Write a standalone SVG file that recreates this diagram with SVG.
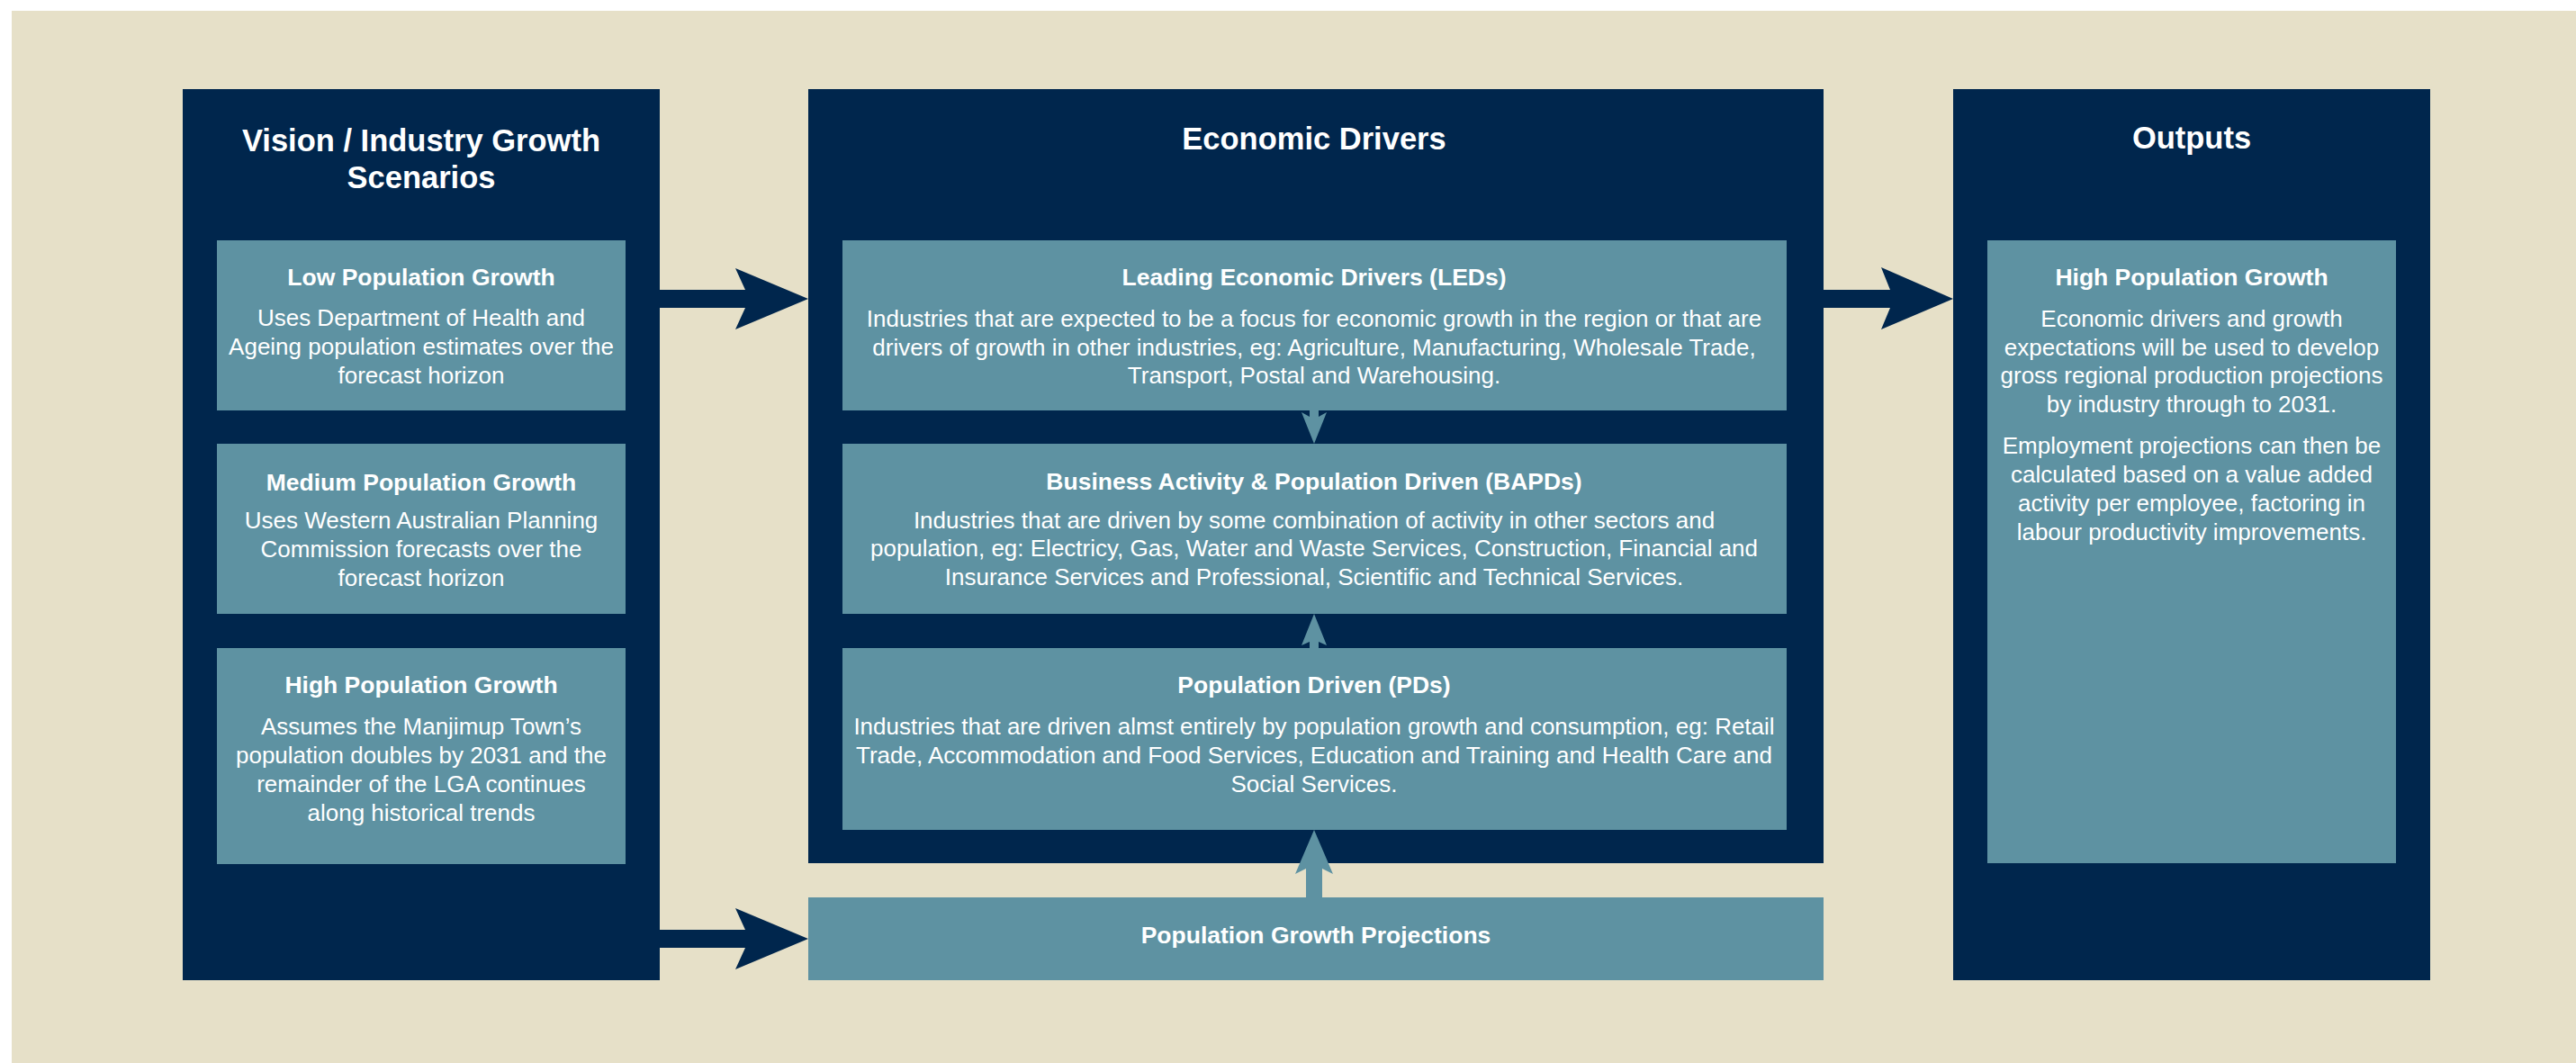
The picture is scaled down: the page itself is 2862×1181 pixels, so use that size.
<svg xmlns="http://www.w3.org/2000/svg" width="2862" height="1181" viewBox="0 0 2862 1181">
  <style>
    .panel { fill: #00264D; }
    .card { fill: #5E92A2; }
    .title { font-family: "Liberation Sans", Arial, sans-serif; font-weight: bold; font-size: 34.5px; fill: #FFFFFF; text-anchor: middle; }
    .head { font-family: "Liberation Sans", Arial, sans-serif; font-weight: bold; font-size: 26.5px; fill: #FFFFFF; text-anchor: middle; }
    .body { font-family: "Liberation Sans", Arial, sans-serif; font-size: 26px; fill: #FFFFFF; text-anchor: middle; }
    .arrow-dark { fill: #00264D; }
    .arrow-light { fill: #5E92A2; }
  </style>

  <!-- page background -->
  <rect x="0" y="0" width="2862" height="1181" fill="#FFFFFF"/>
  <rect x="13" y="12" width="2849" height="1169" fill="#E6E0C8"/>

  <!-- Vision / Industry Growth Scenarios -->
  <g id="scenarios">
    <rect class="panel" x="203" y="99" width="530" height="990"/>
    <text class="title" x="468" y="168">Vision / Industry Growth</text>
    <text class="title" x="468" y="209">Scenarios</text>
  </g>
  <g id="low-growth">
    <rect class="card" x="241" y="267" width="454" height="189"/>
    <text class="head" x="468" y="317">Low Population Growth</text>
    <text class="body" x="468" y="362">Uses Department of Health and</text>
    <text class="body" x="468" y="394">Ageing population estimates over the</text>
    <text class="body" x="468" y="426">forecast horizon</text>
  </g>
  <g id="medium-growth">
    <rect class="card" x="241" y="493" width="454" height="189"/>
    <text class="head" x="468" y="545">Medium Population Growth</text>
    <text class="body" x="468" y="587">Uses Western Australian Planning</text>
    <text class="body" x="468" y="619">Commission forecasts over the</text>
    <text class="body" x="468" y="651">forecast horizon</text>
  </g>
  <g id="high-growth">
    <rect class="card" x="241" y="720" width="454" height="240"/>
    <text class="head" x="468" y="770">High Population Growth</text>
    <text class="body" x="468" y="816">Assumes the Manjimup Town’s</text>
    <text class="body" x="468" y="848">population doubles by 2031 and the</text>
    <text class="body" x="468" y="880">remainder of the LGA continues</text>
    <text class="body" x="468" y="912">along historical trends</text>
  </g>

  <!-- Economic Drivers -->
  <g id="economic-drivers">
    <rect class="panel" x="898" y="99" width="1128" height="860"/>
    <text class="title" x="1460" y="166">Economic Drivers</text>
  </g>
  <g id="leds">
    <rect class="card" x="936" y="267" width="1049" height="189"/>
    <text class="head" x="1460" y="317">Leading Economic Drivers (LEDs)</text>
    <text class="body" x="1460" y="363">Industries that are expected to be a focus for economic growth in the region or that are</text>
    <text class="body" x="1460" y="395">drivers of growth in other industries, eg: Agriculture, Manufacturing, Wholesale Trade,</text>
    <text class="body" x="1460" y="426">Transport, Postal and Warehousing.</text>
  </g>
  <g id="bapds">
    <rect class="card" x="936" y="493" width="1049" height="189"/>
    <text class="head" x="1460" y="544">Business Activity &amp; Population Driven (BAPDs)</text>
    <text class="body" x="1460" y="587">Industries that are driven by some combination of activity in other sectors and</text>
    <text class="body" x="1460" y="618">population, eg: Electricy, Gas, Water and Waste Services, Construction, Financial and</text>
    <text class="body" x="1460" y="650">Insurance Services and Professional, Scientific and Technical Services.</text>
  </g>
  <g id="pds">
    <rect class="card" x="936" y="720" width="1049" height="202"/>
    <text class="head" x="1460" y="770">Population Driven (PDs)</text>
    <text class="body" x="1460" y="816">Industries that are driven almst entirely by population growth and consumption, eg: Retail</text>
    <text class="body" x="1460" y="848">Trade, Accommodation and Food Services, Education and Training and Health Care and</text>
    <text class="body" x="1460" y="880">Social Services.</text>
  </g>

  <!-- Population Growth Projections -->
  <g id="population-projections">
    <rect class="card" x="898" y="997" width="1128" height="92"/>
    <text class="head" x="1462" y="1048">Population Growth Projections</text>
  </g>

  <!-- Outputs -->
  <g id="outputs">
    <rect class="panel" x="2170" y="99" width="530" height="990"/>
    <text class="title" x="2435" y="165">Outputs</text>
  </g>
  <g id="outputs-high-growth">
    <rect class="card" x="2208" y="267" width="454" height="692"/>
    <text class="head" x="2435" y="317">High Population Growth</text>
    <text class="body" x="2435" y="363">Economic drivers and growth</text>
    <text class="body" x="2435" y="395">expectations will be used to develop</text>
    <text class="body" x="2435" y="426">gross regional production projections</text>
    <text class="body" x="2435" y="458">by industry through to 2031.</text>
    <text class="body" x="2435" y="504">Employment projections can then be</text>
    <text class="body" x="2435" y="536">calculated based on a value added</text>
    <text class="body" x="2435" y="568">activity per employee, factoring in</text>
    <text class="body" x="2435" y="600">labour productivity improvements.</text>
  </g>

  <!-- connectors -->
  <g id="connectors">
    <!-- scenarios to economic drivers -->
    <polygon class="arrow-dark" points="733,322 828,322 817,298 898,332 817,366 828,342 733,342"/>
    <!-- scenarios to population projections -->
    <polygon class="arrow-dark" points="733,1033 828,1033 817,1009 898,1043 817,1077 828,1053 733,1053"/>
    <!-- economic drivers to outputs -->
    <polygon class="arrow-dark" points="2026,322 2100,322 2090,297 2170,332 2090,366 2100,342 2026,342"/>
    <!-- LEDs down to BAPDs -->
    <polygon class="arrow-light" points="1455,456 1465,456 1465,463 1474,458 1460,493 1446,458 1455,463"/>
    <!-- PDs up to BAPDs -->
    <polygon class="arrow-light" points="1455,720 1465,720 1465,713 1474,717 1460,682 1446,717 1455,713"/>
    <!-- population projections up to PDs -->
    <polygon class="arrow-light" points="1451,997 1469,997 1469,965 1481,971 1460,922 1439,971 1451,965"/>
  </g>
</svg>
